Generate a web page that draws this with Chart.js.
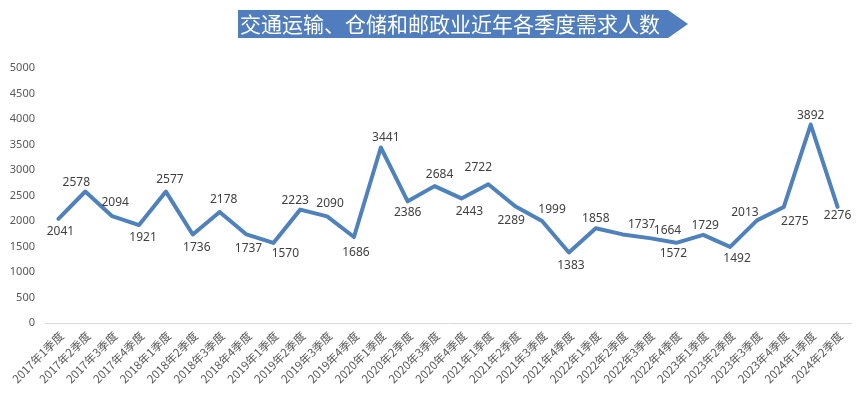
<!DOCTYPE html>
<html>
<head>
<meta charset="utf-8">
<script src="https://cdn.jsdelivr.net/npm/chart.js@4"></script>
<style>
html,body{margin:0;padding:0;background:#fff;}
#wrap{width:859px;height:399px;}
</style>
</head>
<body>
<div id="wrap"><canvas id="c" width="859" height="399"></canvas></div>
<script>
const titleText = '交通运输、仓储和邮政业近年各季度需求人数';
const categories = [
  '2017年1季度','2017年2季度','2017年3季度','2017年4季度',
  '2018年1季度','2018年2季度','2018年3季度','2018年4季度',
  '2019年1季度','2019年2季度','2019年3季度','2019年4季度',
  '2020年1季度','2020年2季度','2020年3季度','2020年4季度',
  '2021年1季度','2021年2季度','2021年3季度','2021年4季度',
  '2022年1季度','2022年2季度','2022年3季度','2022年4季度',
  '2023年1季度','2023年2季度','2023年3季度','2023年4季度',
  '2024年1季度','2024年2季度'
];
const demand = [
  2041, 2578, 2094, 1921,
  2577, 1736, 2178, 1737,
  1570, 2223, 2090, 1686,
  3441, 2386, 2684, 2443,
  2722, 2289, 1999, 1383,
  1858, 1737, 1664, 1572,
  1729, 1492, 2013, 2275,
  3892, 2276
];
const yTicks = [0, 500, 1000, 1500, 2000, 2500, 3000, 3500, 4000, 4500, 5000];
// value-label placement offsets (pixels from the point), style only
const labelDx = [
  2, -9, 3, 4,
  4, 4, 4, 2,
  12, -5, 3, 2,
  5, 0, 5, 8,
  -10, -4, 10, 2,
  0, 19, 18, -3,
  2, 7, -12, 11,
  0, 0
];
const labelDy = [
  13, -9, -14, 13,
  -12, 13, -12, 14,
  11, -9, -13, 16,
  -10, 11, -12, 13,
  -17, 14, -11, 13,
  -10, -10, -8, 11,
  -9, 12, -8, 15,
  -9, 9
];

const bannerPlugin = {
  id: 'banner',
  afterDraw(chart) {
    const ctx = chart.ctx;
    ctx.save();
    ctx.fillStyle = '#4F7DBD';
    ctx.beginPath();
    ctx.moveTo(238, 10);
    ctx.lineTo(668, 10);
    ctx.lineTo(688, 24);
    ctx.lineTo(668, 38);
    ctx.lineTo(238, 38);
    ctx.closePath();
    ctx.fill();
    ctx.fillStyle = '#ffffff';
    let size = 22;
    ctx.font = size + 'px "Noto Sans CJK SC"';
    let w = ctx.measureText(titleText).width;
    while (w > 426 && size > 12) {
      size -= 0.5;
      ctx.font = size + 'px "Noto Sans CJK SC"';
      w = ctx.measureText(titleText).width;
    }
    ctx.textAlign = 'left';
    ctx.textBaseline = 'middle';
    ctx.fillText(titleText, 240, 24.5);
    ctx.restore();
  }
};

const labelPlugin = {
  id: 'pointLabels',
  afterDatasetsDraw(chart) {
    const ctx = chart.ctx;
    const meta = chart.getDatasetMeta(0);
    ctx.save();
    ctx.fillStyle = '#404040';
    ctx.font = '12px "Noto Sans", sans-serif';
    ctx.textAlign = 'center';
    ctx.textBaseline = 'middle';
    meta.data.forEach((pt, i) => {
      ctx.fillText(String(demand[i]), pt.x + labelDx[i], pt.y + labelDy[i]);
    });
    ctx.restore();
  }
};

new Chart(document.getElementById('c'), {
  type: 'line',
  data: {
    labels: categories,
    datasets: [{
      data: demand,
      borderColor: '#4F81BD',
      borderWidth: 4,
      pointRadius: 0,
      pointHoverRadius: 0,
      tension: 0,
      fill: false,
      borderJoinStyle: 'round',
      borderCapStyle: 'round'
    }]
  },
  options: {
    responsive: false,
    animation: false,
    events: [],
    layout: { padding: { top: 68, right: 8, left: 0, bottom: 0 } },
    plugins: { legend: { display: false }, tooltip: { enabled: false }, title: { display: false } },
    scales: {
      x: {
        offset: true,
        grid: { display: false, drawTicks: false },
        border: { display: true, color: '#D9D9D9', width: 1 },
        ticks: {
          autoSkip: false,
          minRotation: 45,
          maxRotation: 45,
          color: '#595959',
          padding: 6,
          labelOffset: 3,
          font: { size: 11.5, family: '"Noto Sans CJK SC"' }
        },
        afterFit(axis) { axis.height = 76; }
      },
      y: {
        min: 0,
        max: 5000,
        afterBuildTicks(axis) { axis.ticks = yTicks.map(v => ({ value: v })); },
        grid: { display: false, drawTicks: false },
        border: { display: false },
        ticks: {
          color: '#595959',
          padding: 10,
          callback: (v) => String(v),
          font: { size: 11, family: '"Noto Sans", sans-serif' }
        },
        afterFit(axis) { axis.width = 45; }
      }
    }
  },
  plugins: [bannerPlugin, labelPlugin]
});
</script>
</body>
</html>
